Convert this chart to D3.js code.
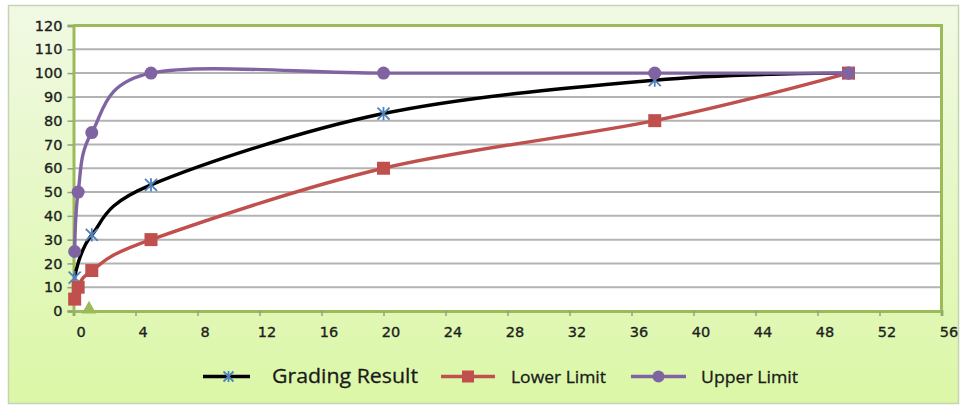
<!DOCTYPE html>
<html>
<head>
<meta charset="utf-8">
<script src="https://cdn.jsdelivr.net/npm/d3@7"></script>
<style>
  html, body { margin: 0; padding: 0; background: #ffffff; }
  svg { display: block; }
  .tick text { font-family: "DejaVu Sans", sans-serif; font-size: 14.5px; fill: #1e1e1e; stroke: #1e1e1e; stroke-width: 0.35px; }
</style>
</head>
<body>
<svg id="chart" width="966" height="407"></svg>
<script>
// Sieve sizes (mm) and percent passing for each series
const sieveGrading = [0.075, 1.18, 5, 20, 37.5, 50];
const gradingResult = [14, 32, 53, 83, 97, 100];

const sieveLimits = [0.075, 0.3, 1.18, 5, 20, 37.5, 50];
const lowerLimit = [5, 10, 17, 30, 60, 80, 100];
const upperLimit = [25, 50, 75, 100, 100, 100, 100];

// Extra single point sitting on the x axis
const extraX = [1];
const extraY = [0];

const xTicks = d3.range(0, 57, 4);
const yTicks = d3.range(0, 121, 10);

const seriesNames = ["Grading Result", "Lower Limit", "Upper Limit"];
const colors = {
  grading: "#000000",
  gradingMarker: "#4f81bd",
  lower: "#c0504d",
  upper: "#8064a2",
  axis: "#9bbb59",
  grid: "#b3b3b3"
};

const svg = d3.select("#chart");

// Chart background
const defs = svg.append("defs");
const grad = defs.append("linearGradient").attr("id", "bg").attr("x1", 0).attr("y1", 0).attr("x2", 0).attr("y2", 1);
grad.append("stop").attr("offset", "0%").attr("stop-color", "#f1f9e4");
grad.append("stop").attr("offset", "100%").attr("stop-color", "#dbf7a6");

svg.append("rect").attr("x", 8.5).attr("y", 5.5).attr("width", 950).attr("height", 398)
  .attr("fill", "url(#bg)").attr("stroke", "#c6d3b4").attr("stroke-width", 1.5);

const x = d3.scaleLinear().domain([0, 56]).range([73.5, 941.5]);
const y = d3.scaleLinear().domain([0, 120]).range([311, 25.5]);

// Plot area
svg.append("rect").attr("x", x(0)).attr("y", y(120)).attr("width", x(56) - x(0)).attr("height", y(0) - y(120))
  .attr("fill", "#ffffff");

// Horizontal gridlines
svg.append("g").selectAll("line").data(yTicks.filter(d => d > 0 && d < 120)).join("line")
  .attr("x1", x(0)).attr("x2", x(56)).attr("y1", d => y(d)).attr("y2", d => y(d))
  .attr("stroke", colors.grid).attr("stroke-width", 2);

// Plot border (top and right)
svg.append("path")
  .attr("d", `M${x(0)},${y(120)}H${x(56)}V${y(0)}`)
  .attr("fill", "none").attr("stroke", colors.axis).attr("stroke-width", 3);

// Axes
const yAxis = d3.axisLeft(y).tickValues(yTicks).tickSize(6).tickPadding(5);
const gy = svg.append("g").attr("transform", `translate(${x(0)},0)`).call(yAxis);
gy.select(".domain").attr("stroke", colors.axis).attr("stroke-width", 3);
gy.selectAll(".tick line").attr("stroke", "#8f9f86").attr("stroke-width", 1.5);

const xAxis = d3.axisBottom(x).tickValues(xTicks).tickSize(5).tickPadding(11);
const gx = svg.append("g").attr("transform", `translate(0,${y(0)})`).call(xAxis);
gx.select(".domain").attr("stroke", colors.axis).attr("stroke-width", 3);
gx.selectAll(".tick line").attr("stroke", "#8f9f86").attr("stroke-width", 1.5);
gx.selectAll(".tick text").attr("x", 7);

// Smoothed series lines
const line = d3.line().curve(d3.curveCardinal.tension(0)).x(d => x(d[0])).y(d => y(d[1]));
const gradingPts = sieveGrading.map((s, i) => [s, gradingResult[i]]);
const lowerPts = sieveLimits.map((s, i) => [s, lowerLimit[i]]);
const upperPts = sieveLimits.map((s, i) => [s, upperLimit[i]]);

const plot = svg.append("g");

function starMarker(g, cx, cy, r, color) {
  g.append("path")
    .attr("d", `M${cx - r},${cy - r}L${cx + r},${cy + r}M${cx - r},${cy + r}L${cx + r},${cy - r}M${cx},${cy - r * 1.1}V${cy + r * 1.1}`)
    .attr("stroke", color).attr("stroke-width", 1.8).attr("fill", "none");
}
function squareMarker(g, cx, cy, s, color) {
  g.append("rect").attr("x", cx - s / 2).attr("y", cy - s / 2).attr("width", s).attr("height", s).attr("fill", color);
}
function circleMarker(g, cx, cy, r, color) {
  g.append("circle").attr("cx", cx).attr("cy", cy).attr("r", r).attr("fill", color);
}
function triangleMarker(g, cx, cy, s, color) {
  g.append("path").attr("d", `M${cx},${cy - s * 0.6}L${cx + s * 0.6},${cy + s * 0.45}L${cx - s * 0.6},${cy + s * 0.45}Z`).attr("fill", color);
}

// Grading result
plot.append("path").datum(gradingPts).attr("d", line)
  .attr("fill", "none").attr("stroke", colors.grading).attr("stroke-width", 3.4);
gradingPts.forEach(p => starMarker(plot, x(p[0]), y(p[1]), 6, colors.gradingMarker));

// Lower limit
plot.append("path").datum(lowerPts).attr("d", line)
  .attr("fill", "none").attr("stroke", colors.lower).attr("stroke-width", 3.4);
lowerPts.forEach(p => squareMarker(plot, x(p[0]), y(p[1]), 13, colors.lower));

// Upper limit
plot.append("path").datum(upperPts).attr("d", line)
  .attr("fill", "none").attr("stroke", colors.upper).attr("stroke-width", 3.4);
upperPts.forEach(p => circleMarker(plot, x(p[0]), y(p[1]), 6.5, colors.upper));

// Extra point on the axis
extraX.forEach((v, i) => triangleMarker(plot, x(v), y(extraY[i]) - 3, 12, colors.axis));

// Legend
const legend = svg.append("g");
const legendItems = [
  { name: seriesNames[0], x0: 203, x1: 250, color: colors.grading, marker: "star", tx: 272, tw: 146, fs: 19.5, base: 383 },
  { name: seriesNames[1], x0: 441, x1: 495, color: colors.lower, marker: "square", tx: 511, tw: 95, fs: 16, base: 382.5 },
  { name: seriesNames[2], x0: 631, x1: 686, color: colors.upper, marker: "circle", tx: 701, tw: 97, fs: 16, base: 382.5 }
];
const ly = 376.5;
legendItems.forEach(it => {
  legend.append("line").attr("x1", it.x0).attr("x2", it.x1).attr("y1", ly).attr("y2", ly)
    .attr("stroke", it.color).attr("stroke-width", 3.4);
  const cx = (it.x0 + it.x1) / 2;
  if (it.marker === "star") starMarker(legend, cx + 2, ly, 5, colors.gradingMarker);
  if (it.marker === "square") squareMarker(legend, cx, ly, 12, it.color);
  if (it.marker === "circle") circleMarker(legend, cx, ly, 6, it.color);
  legend.append("text").attr("x", it.tx).attr("y", it.base)
    .attr("textLength", it.tw).attr("lengthAdjust", "spacingAndGlyphs")
    .attr("font-family", "'Open Sans', sans-serif").attr("font-size", it.fs).attr("fill", "#1a1a1a")
    .attr("stroke", "#1a1a1a").attr("stroke-width", 0.3)
    .text(it.name);
});
</script>
</body>
</html>
